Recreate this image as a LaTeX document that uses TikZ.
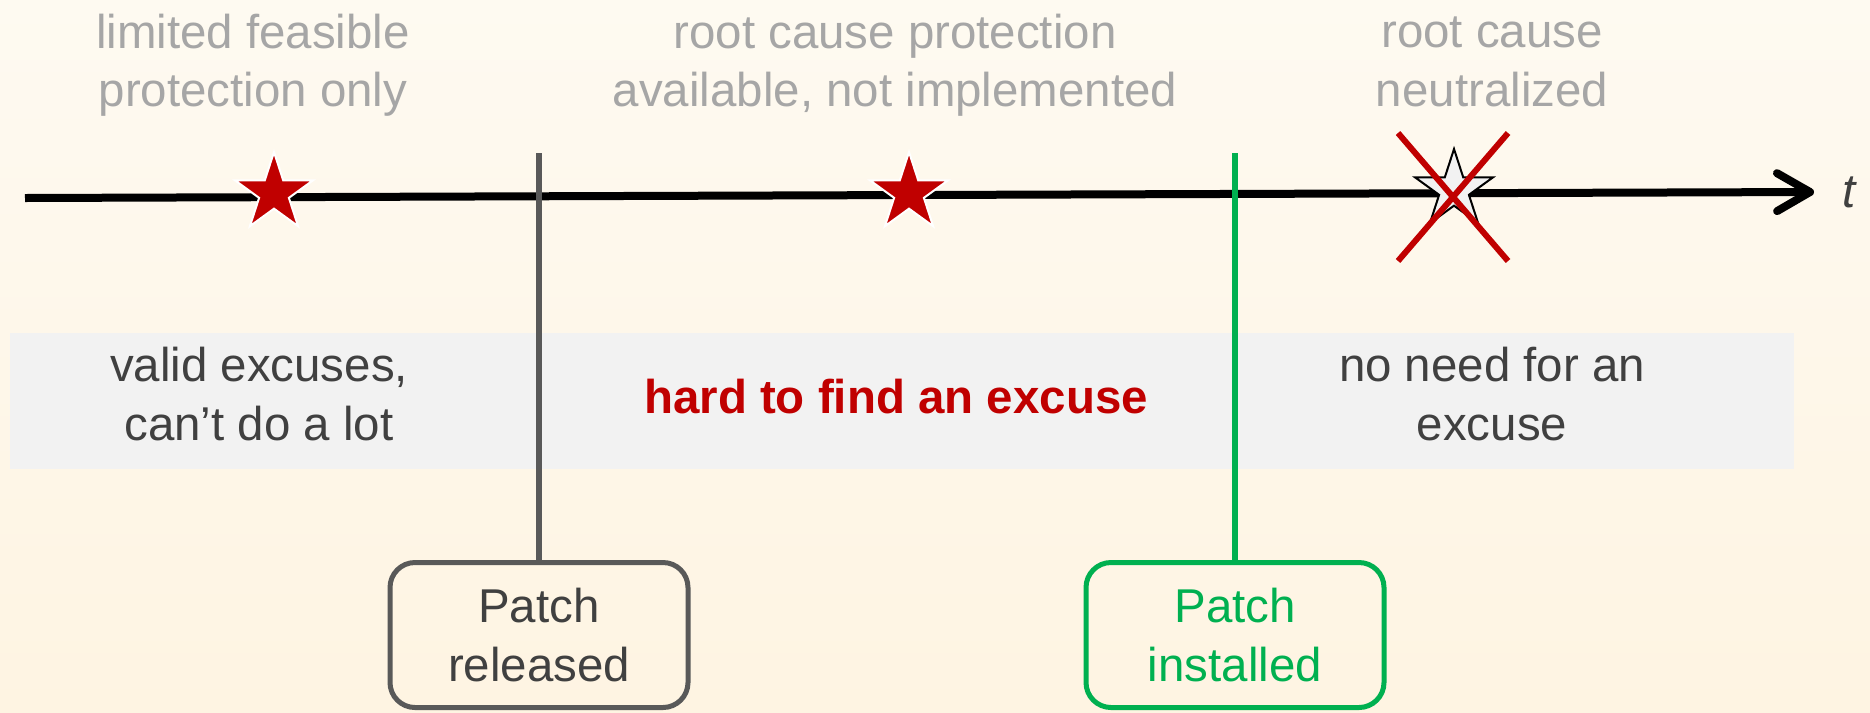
\documentclass[tikz,border=0pt]{standalone}
\usepackage{fontspec}
\setmainfont{Liberation Sans}
\usepackage{tikz}
\usetikzlibrary{shapes}
\usetikzlibrary{arrows.meta}
\usetikzlibrary{positioning}
\usetikzlibrary{calc}
\definecolor{bgtop}{RGB}{254,250,241}
\definecolor{bgbot}{RGB}{254,244,226}
\definecolor{bandgray}{RGB}{242,242,242}
\definecolor{toptxt}{RGB}{166,166,166}
\definecolor{darktxt}{RGB}{64,64,64}
\definecolor{darkred}{RGB}{192,0,0}
\definecolor{patchgreen}{RGB}{0,176,80}
\definecolor{patchgray}{RGB}{89,89,89}
\newcommand{\txtfont}{\fontsize{13.5}{16.6}\selectfont}
\tikzstyle{toptext}=[text=toptxt,align=center,font=\txtfont,inner sep=0pt]
\tikzstyle{bandtext}=[text=darktxt,align=center,font=\txtfont,inner sep=0pt]
\tikzstyle{patchbox}=[
        rectangle,
        rounded corners=2.5mm,
        line width=0.5mm,
        minimum width=29.8mm,
        minimum height=14.5mm,
        align=center,
        font=\txtfont
]
\tikzstyle{redstar}=[star,star points=5,star point ratio=2.618,minimum size=8.2mm,inner sep=0pt,fill=darkred,draw=white,line width=0.2mm]
\tikzstyle{deadstar}=[star,star points=5,star point ratio=2.618,minimum size=8.2mm,inner sep=0pt,fill=bandgray,draw=black,line width=0.2mm]
\tikzstyle{crossed}=[cross out,draw=darkred,line width=0.6mm,minimum width=10.4mm,minimum height=12.2mm,inner sep=0pt]
\tikzstyle{timeline}=[line width=0.8mm,-{Straight Barb[length=3.3mm,width=3.8mm,round]}]
\tikzstyle{patchline}=[line width=0.6mm]

\begin{document}
\begin{tikzpicture}[x=0.1mm,y=-0.1mm]
\useasboundingbox (0,0) rectangle (1870,712);
\fill[top color=bgtop,bottom color=bgbot] (0,0) rectangle (1870,712);
\fill[bandgray] (10,333) rectangle (1794,469);
%time axis
\coordinate (tstart) at (25,198);
\coordinate (tend) at (1814,192);
\node[font=\txtfont\itshape,text=darktxt,inner sep=0pt] (tlabel) at (1849,192) {t};
\draw[timeline] (tstart) -- (tend);
\node[redstar] (star1) at (274,193) {};
\node[redstar] (star2) at (909,193) {};
\node[deadstar] (star3) at (1454,190) {};
\node[crossed] (cross) at (1453,197) {};
%phases
\node[toptext] (limited) at (253,65) {limited feasible\\protection only};
\node[toptext] (available) at (895,65) {root cause protection\\available, not implemented};
\node[toptext] (neutral) at (1492,62) {root cause\\neutralized};
\node[bandtext] (valid) at (259,394) {valid excuses,\\can’t do a lot};
\node[bandtext,text=darkred,font=\txtfont\bfseries] (hard) at (896,397) {hard to find an excuse};
\node[bandtext] (noneed) at (1492,394) {no need for an\\excuse};
%patch events
\node[patchbox,draw=patchgray,text=darktxt] (released) at (539,635) {Patch\\released};
\node[patchbox,draw=patchgreen,text=patchgreen] (installed) at (1235,635) {Patch\\installed};
\coordinate (reltop) at (539,153);
\coordinate (insttop) at (1235,153);
\draw[patchline,patchgray] (reltop) -- (released);
\draw[patchline,patchgreen] (insttop) -- (installed);
\end{tikzpicture}
\end{document}
